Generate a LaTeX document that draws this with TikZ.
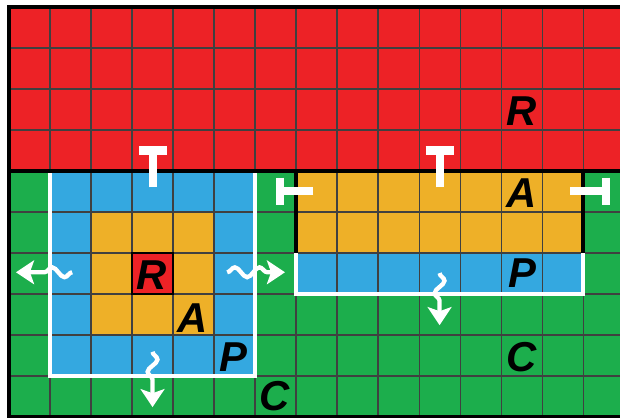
\documentclass[tikz,border=0pt]{standalone}
\usepackage{fontspec}
\setsansfont{Liberation Sans}
\usetikzlibrary{arrows.meta,decorations.pathmorphing}
\definecolor{cred}{RGB}{237,34,38}
\definecolor{cgreen}{RGB}{28,174,76}
\definecolor{cblue}{RGB}{52,168,224}
\definecolor{corange}{RGB}{238,176,40}
\begin{document}
\begin{tikzpicture}[x=1cm,y=1cm,
  gridline/.style={black!75, line width=0.8pt},
  border/.style={black, line width=2.4pt, line join=miter},
  outline/.style={white, line width=2.6pt},
  inhib/.style={white, line width=5.6pt},
  inhibside/.style={white, line width=5pt},
  wavy/.style={white, line width=3pt, decorate,
    decoration={snake, amplitude=0.12cm, segment length=0.6cm, post length=0.42cm},
    -{Stealth[length=0.44cm, width=0.58cm, inset=0.1cm]}},
  lbl/.style={font=\sffamily\bfseries\itshape\fontsize{29}{29}\selectfont, inner sep=0pt, text=black}]
\fill[white] (-0.22,-10) rectangle (14.90,0.17);
\useasboundingbox (-0.22,-10) rectangle (14.90,0.17);
\clip (-0.22,-10) rectangle (14.90,0.17);
% regions
\fill[cred] (0,0) rectangle (15,-4);
\fill[cgreen] (0,-4) rectangle (15,-10);
\fill[cblue] (1,-4) rectangle (6,-9);
\fill[corange] (2,-5) rectangle (5,-8);
\fill[cred] (3,-6) rectangle (4,-7);
\fill[corange] (7,-4) rectangle (14,-6);
\fill[cblue] (7,-6) rectangle (14,-7);
% grid
\draw[gridline] (0,-10) grid (15,0);
% white outlines
\draw[outline] (1,-4) -- (1,-9) -- (6,-9) -- (6,-4);
\draw[outline] (7,-6) -- (7,-7) -- (14,-7) -- (14,-6);
% black borders
\draw[black, line width=1.6pt] (3,-6) rectangle (4,-7);
\draw[border] (7,-6) -- (7,-4);
\draw[border] (14,-4) -- (14,-6);
\draw[border] (0,-4) -- (15,-4);
\draw[border] (0,-10.2) -- (0,0) -- (15,0);
\draw[border] (0,-10) -- (15,-10);
% inhibition symbols
\coordinate (t1s) at (3.52,-4.4);
\coordinate (t1e) at (3.52,-3.5);
\coordinate (t1a) at (3.18,-3.5);
\coordinate (t1b) at (3.86,-3.5);
\draw[inhib] (t1s) -- (t1e);
\draw[inhib] (t1a) -- (t1b);
\coordinate (t2s) at (10.5,-4.4);
\coordinate (t2e) at (10.5,-3.5);
\coordinate (t2a) at (10.16,-3.5);
\coordinate (t2b) at (10.84,-3.5);
\draw[inhib] (t2s) -- (t2e);
\draw[inhib] (t2a) -- (t2b);
\coordinate (h1s) at (7.42,-4.49);
\coordinate (h1e) at (6.61,-4.49);
\coordinate (h1a) at (6.61,-4.16);
\coordinate (h1b) at (6.61,-4.82);
\draw[inhibside] (h1s) -- (h1e);
\draw[inhibside] (h1a) -- (h1b);
\coordinate (h2s) at (13.68,-4.49);
\coordinate (h2e) at (14.56,-4.49);
\coordinate (h2a) at (14.56,-4.16);
\coordinate (h2b) at (14.56,-4.82);
\draw[inhibside] (h2s) -- (h2e);
\draw[inhibside] (h2a) -- (h2b);
% wavy arrows
\coordinate (wl0) at (1.54,-6.47);
\coordinate (wl1) at (0.17,-6.47);
\coordinate (wr0) at (5.32,-6.47);
\coordinate (wr1) at (6.73,-6.47);
\coordinate (wd0) at (3.5,-8.41);
\coordinate (wd1) at (3.5,-9.76);
\coordinate (we0) at (10.5,-6.49);
\coordinate (we1) at (10.5,-7.76);
\draw[wavy] (wl0) -- (wl1);
\draw[wavy] (wr0) -- (wr1);
\draw[wavy] (wd0) -- (wd1);
\draw[wavy] (we0) -- (we1);
% labels
\node[lbl] (Rtop) at (12.5,-2.55) {R};
\node[lbl] (Aright) at (12.5,-4.53) {A};
\node[lbl] (Pright) at (12.52,-6.5) {P};
\node[lbl] (Cright) at (12.5,-8.53) {C};
\node[lbl] (Rleft) at (3.47,-6.53) {R};
\node[lbl] (Aleft) at (4.47,-7.58) {A};
\node[lbl] (Pleft) at (5.47,-8.53) {P};
\node[lbl] (Cleft) at (6.47,-9.5) {C};
\end{tikzpicture}
\end{document}
